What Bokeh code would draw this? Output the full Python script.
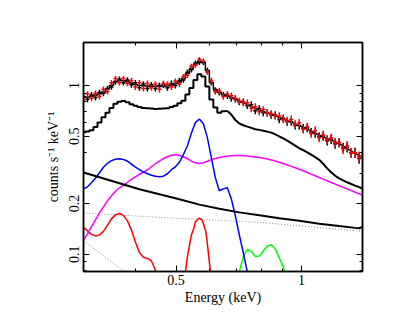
import numpy as np
from bokeh.plotting import figure
from bokeh.models import FixedTicker, LogAxis, Range1d, CustomJSTickFormatter
from bokeh.embed import file_html
from bokeh.resources import INLINE

# ---------------- data ----------------
energy = [0.3000, 0.3067, 0.3135, 0.3205, 0.3277, 0.3350, 0.3424, 0.3501, 0.3579, 0.3659,
          0.3740, 0.3824, 0.3909, 0.3996, 0.4085, 0.4176, 0.4270, 0.4365, 0.4462, 0.4562,
          0.4664, 0.4768, 0.4874, 0.4983, 0.5094, 0.5208, 0.5324, 0.5443, 0.5564, 0.5688,
          0.5815, 0.5945, 0.6077, 0.6213, 0.6351, 0.6493, 0.6638, 0.6786, 0.6937, 0.7092,
          0.7250, 0.7412, 0.7577, 0.7746, 0.7919, 0.8095, 0.8276, 0.8460, 0.8649, 0.8842,
          0.9039, 0.9240, 0.9446, 0.9657, 0.9872, 1.0092, 1.0317, 1.0547, 1.0782, 1.1023,
          1.1268, 1.1519, 1.1776, 1.2039, 1.2307, 1.2581, 1.2862, 1.3149, 1.3442, 1.3741,
          1.4047]

model_total = [0.849, 0.855, 0.863, 0.875, 0.890, 0.915, 0.953, 1.000, 1.056, 1.071,
               1.068, 1.056, 1.035, 1.014, 1.000, 0.997, 0.995, 0.992, 0.989, 0.986,
               0.989, 0.996, 1.007, 1.028, 1.049, 1.100, 1.178, 1.262, 1.342, 1.393,
               1.370, 1.228, 1.042, 0.947, 0.909, 0.886, 0.869, 0.849, 0.832, 0.810,
               0.792, 0.771, 0.750, 0.732, 0.717, 0.703, 0.689, 0.676, 0.661, 0.646,
               0.632, 0.620, 0.606, 0.593, 0.580, 0.567, 0.552, 0.537, 0.522, 0.508,
               0.496, 0.484, 0.474, 0.465, 0.452, 0.437, 0.422, 0.408, 0.397, 0.384,
               0.374]

model_lower = [0.528, 0.534, 0.544, 0.567, 0.603, 0.648, 0.691, 0.735, 0.779, 0.803,
               0.809, 0.795, 0.776, 0.760, 0.747, 0.737, 0.733, 0.730, 0.727, 0.728,
               0.730, 0.734, 0.745, 0.760, 0.786, 0.812, 0.884, 0.966, 1.078, 1.166,
               1.131, 0.986, 0.826, 0.740, 0.691, 0.703, 0.706, 0.673, 0.624, 0.596,
               0.582, 0.571, 0.561, 0.551, 0.546, 0.540, 0.533, 0.526, 0.513, 0.499,
               0.486, 0.472, 0.456, 0.440, 0.425, 0.414, 0.402, 0.389, 0.376, 0.363,
               0.344, 0.323, 0.306, 0.292, 0.282, 0.274, 0.267, 0.261, 0.255, 0.250,
               0.244]

data_black = [0.86, 0.83, 0.88, 0.85, 0.91, 0.90, 0.96, 0.98, 1.05, 1.09,
              1.04, 1.08, 1.01, 1.04, 0.97, 1.02, 0.96, 1.01, 0.96, 1.00,
              1.01, 0.97, 1.03, 1.00, 1.07, 1.08, 1.20, 1.24, 1.36, 1.37,
              1.37, 1.23, 1.04, 0.94, 0.91, 0.88, 0.87, 0.84, 0.83, 0.80,
              0.80, 0.76, 0.77, 0.71, 0.73, 0.69, 0.69, 0.67, 0.67, 0.63,
              0.64, 0.61, 0.61, 0.58, 0.58, 0.56, 0.56, 0.53, 0.52, 0.50,
              0.50, 0.47, 0.48, 0.45, 0.46, 0.43, 0.43, 0.40, 0.40, 0.37,
              0.38]

data_red = [0.82, 0.89, 0.84, 0.90, 0.86, 0.95, 0.92, 1.04, 1.10, 1.04,
            1.10, 1.03, 1.07, 0.98, 1.04, 0.96, 1.03, 0.97, 1.02, 0.95,
            1.03, 1.02, 0.98, 1.06, 1.02, 1.13, 1.15, 1.30, 1.32, 1.43,
            1.40, 1.20, 1.07, 0.92, 0.93, 0.86, 0.89, 0.87, 0.84, 0.81,
            0.79, 0.79, 0.73, 0.75, 0.70, 0.72, 0.69, 0.68, 0.66, 0.66,
            0.63, 0.62, 0.63, 0.59, 0.60, 0.55, 0.57, 0.52, 0.54, 0.49,
            0.51, 0.48, 0.49, 0.46, 0.46, 0.42, 0.44, 0.40, 0.40, 0.38,
            0.39]

rel_err = [0.040, 0.041, 0.039, 0.040, 0.038, 0.039, 0.038, 0.037, 0.036, 0.037,
           0.037, 0.038, 0.038, 0.039, 0.039, 0.040, 0.040, 0.040, 0.041, 0.041,
           0.041, 0.040, 0.040, 0.039, 0.038, 0.037, 0.036, 0.035, 0.034, 0.034,
           0.035, 0.036, 0.039, 0.041, 0.042, 0.043, 0.043, 0.044, 0.045, 0.045,
           0.046, 0.046, 0.047, 0.047, 0.048, 0.048, 0.049, 0.050, 0.050, 0.051,
           0.052, 0.052, 0.053, 0.054, 0.055, 0.055, 0.056, 0.057, 0.058, 0.059,
           0.060, 0.061, 0.062, 0.063, 0.064, 0.065, 0.066, 0.067, 0.068, 0.069,
           0.070]

comp_magenta = [0.1208, 0.1320, 0.1453, 0.1599, 0.1759, 0.1910, 0.2073, 0.2220, 0.2361, 0.2477,
                0.2563, 0.2671, 0.2782, 0.2879, 0.2979, 0.3062, 0.3169, 0.3302, 0.3440, 0.3560,
                0.3684, 0.3786, 0.3864, 0.3890, 0.3864, 0.3786, 0.3684, 0.3560, 0.3487, 0.3454,
                0.3487, 0.3560, 0.3634, 0.3694, 0.3745, 0.3786, 0.3822, 0.3837, 0.3853, 0.3853,
                0.3837, 0.3822, 0.3801, 0.3775, 0.3745, 0.3709, 0.3669, 0.3624, 0.3570, 0.3511,
                0.3449, 0.3383, 0.3319, 0.3256, 0.3190, 0.3126, 0.3053, 0.2983, 0.2918, 0.2851,
                0.2786, 0.2726, 0.2663, 0.2605, 0.2545, 0.2490, 0.2443, 0.2383, 0.2331, 0.2281,
                0.2235]

comp_blue = [0.244, 0.251, 0.265, 0.282, 0.304, 0.328, 0.346, 0.359, 0.366, 0.368,
             0.365, 0.356, 0.342, 0.328, 0.317, 0.308, 0.300, 0.294, 0.290, 0.288,
             0.290, 0.300, 0.317, 0.330, 0.351, 0.389, 0.440, 0.522, 0.603, 0.634,
             0.594, 0.491, 0.373, 0.284, 0.238, 0.244, 0.248, 0.213, 0.169, 0.130,
             0.102, 0.0785]

cont_energy = [0.300, 0.3277, 0.3659, 0.4085, 0.4562, 0.5094, 0.5688, 0.6351, 0.7092,
               0.7919, 0.8842, 0.9872, 1.1023, 1.2307, 1.3442, 1.3741, 1.4047]
comp_cont = [0.3053, 0.2859, 0.2634, 0.2427, 0.2266, 0.2116, 0.1968, 0.1858, 0.1771,
             0.1700, 0.1636, 0.1577, 0.1518, 0.1469, 0.1433, 0.1425, 0.1455]

dot1_energy = [0.300, 0.4562, 0.7919, 1.4047]
comp_dot1 = [0.1759, 0.1654, 0.1545, 0.1366]
dot2_energy = [0.300, 0.3824]
comp_dot2 = [0.120, 0.0768]

comp_red1 = [0.1443, 0.1375, 0.1311, 0.1284, 0.1302, 0.1366, 0.1483, 0.1621, 0.1712, 0.1743,
             0.1700, 0.1577, 0.1394, 0.1183, 0.1025, 0.0960, 0.0944, 0.0912, 0.0807, 0.0650]
red2_energy = [0.5269, 0.5324, 0.5443, 0.5519, 0.5564, 0.5641, 0.5688, 0.5768, 0.5815,
               0.5897, 0.5945, 0.6047]
comp_red2 = [0.0785, 0.0964, 0.1302, 0.1433, 0.1555, 0.1614, 0.1636, 0.1603, 0.1514,
             0.1357, 0.1151, 0.0785]

green_energy = [0.7088, 0.7250, 0.7412, 0.7577, 0.7746, 0.7919, 0.8095, 0.8276, 0.8460,
                0.8649, 0.8842, 0.9039, 0.9146]
comp_green = [0.0785, 0.0964, 0.1070, 0.1040, 0.0968, 0.0975, 0.1046, 0.1120, 0.1139,
              0.1075, 0.0951, 0.0840, 0.0774]

x_major = [0.5, 1.0]
x_minor = [0.3, 0.4, 0.6, 0.7, 0.8, 0.9]
y_major = [0.1, 0.2, 0.5, 1.0]
y_minor = [0.08, 0.09, 0.3, 0.4, 0.6, 0.7, 0.8, 0.9]

# ---------------- figure ----------------
FONT = "Liberation Serif"
p = figure(frame_width=279, frame_height=229,
           x_axis_type="log", y_axis_type="log",
           x_range=Range1d(0.3, 1.4), y_range=Range1d(0.079, 1.8),
           output_backend="svg", toolbar_location=None,
           min_border_left=83, min_border_right=36,
           min_border_top=42, min_border_bottom=37)
p.xgrid.visible = False
p.ygrid.visible = False
p.outline_line_color = "black"
p.outline_line_width = 1.5
p.background_fill_color = "white"
p.border_fill_color = "white"

fmt = CustomJSTickFormatter(code="return tick.toString();")
blank = CustomJSTickFormatter(code="return '';")

def style_axis(ax, ticker, labels):
    ax.ticker = ticker
    ax.axis_line_color = "black"
    ax.axis_line_width = 1.5
    ax.major_tick_in = 6
    ax.major_tick_out = 0
    ax.minor_tick_in = 3
    ax.minor_tick_out = 0
    ax.major_tick_line_color = "black"
    ax.minor_tick_line_color = "black"
    ax.major_tick_line_width = 1
    ax.minor_tick_line_width = 1
    if labels:
        ax.formatter = fmt
        ax.major_label_text_font = FONT
        ax.major_label_text_font_size = "14px"
        ax.major_label_text_color = "black"
        ax.axis_label_text_font = FONT
        ax.axis_label_text_font_size = "14px"
        ax.axis_label_text_font_style = "normal"
        ax.axis_label_text_color = "black"
    else:
        ax.formatter = blank
        ax.major_label_standoff = 0

xt = FixedTicker(ticks=x_major, minor_ticks=x_minor)
yt = FixedTicker(ticks=y_major, minor_ticks=y_minor)

style_axis(p.xaxis[0], xt, True)
p.xaxis[0].axis_label = "Energy (keV)"
p.xaxis[0].major_label_standoff = 3
p.xaxis[0].axis_label_standoff = 2

style_axis(p.yaxis[0], yt, True)
p.yaxis[0].axis_label = "counts s⁻¹ keV⁻¹"
p.yaxis[0].major_label_orientation = "vertical"
p.yaxis[0].major_label_standoff = 4
p.yaxis[0].axis_label_standoff = 6

top = LogAxis()
style_axis(top, FixedTicker(ticks=x_major, minor_ticks=x_minor), False)
p.add_layout(top, "above")
right = LogAxis()
style_axis(right, FixedTicker(ticks=y_major, minor_ticks=y_minor), False)
p.add_layout(right, "right")

# ---------------- components ----------------
E = np.array(energy)
p.line(dot2_energy, comp_dot2, line_color="#8c8c8c", line_width=1, line_dash="1 2")
p.line(dot1_energy, comp_dot1, line_color="#8c8c8c", line_width=1, line_dash="1 2")
p.line(energy[:20], comp_red1, line_color="#ff0000", line_width=1.5)
p.line(red2_energy, comp_red2, line_color="#ff0000", line_width=1.5)
p.line(green_energy, comp_green, line_color="#00ff00", line_width=1.5)
p.line(energy, comp_magenta, line_color="#ff00ff", line_width=1.5)
p.line(energy[:len(comp_blue)], comp_blue, line_color="#0000ff", line_width=1.5)
p.line(cont_energy, comp_cont, line_color="black", line_width=2)

# ---------------- models ----------------
# low-energy bins are wide on the log axis (visible steps); high-energy bins are
# narrow, so the model looks like a smooth line there
SPLIT = 36
p.step(energy[:SPLIT + 1], model_lower[:SPLIT + 1], mode="center", line_color="black", line_width=2)
p.line(energy[SPLIT:], model_lower[SPLIT:], line_color="black", line_width=2)

# ---------------- data crosses ----------------
mid = np.sqrt(E[:-1] * E[1:])
lo = np.concatenate([[E[0] ** 2 / mid[0]], mid])
hi = np.concatenate([mid, [E[-1] ** 2 / mid[-1]]])
rel = np.array(rel_err)

p.step(energy[:SPLIT + 1], model_total[:SPLIT + 1], mode="center", line_color="black", line_width=1.5)
p.line(energy[SPLIT:], model_total[SPLIT:], line_color="black", line_width=1.5)

for vals, col in ((np.array(data_black), "black"), (np.array(data_red), "#ff0000")):
    err = vals * rel
    p.segment(x0=E, y0=vals - err, x1=E, y1=vals + err, line_color=col, line_width=1.5)
    p.segment(x0=lo, y0=vals, x1=hi, y1=vals, line_color=col, line_width=1.5)

open("out.html", "w").write(file_html(p, INLINE))
